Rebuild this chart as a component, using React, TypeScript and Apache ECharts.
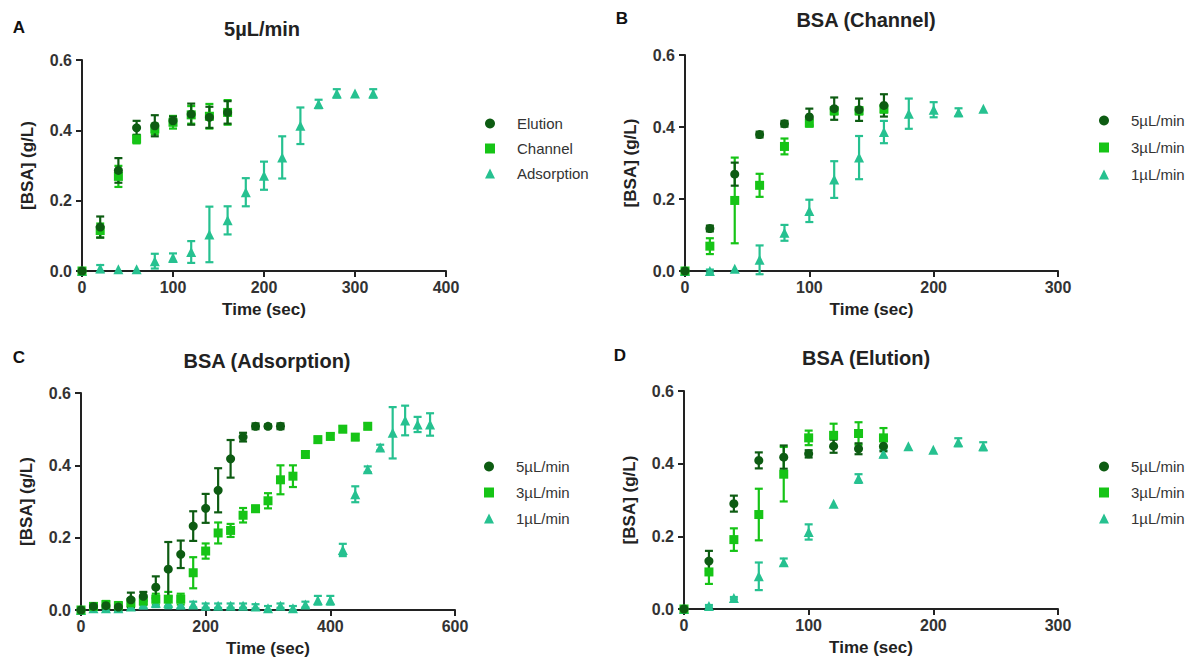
import React, { useEffect, useRef } from "react";
import * as echarts from "echarts";

// ---------- Data ----------
// Panel A (5 µL/min)
const timeA_short = [0, 20, 40, 60, 80, 100, 120, 140, 160];
const elutionA = [0, 0.125, 0.286, 0.407, 0.413, 0.427, 0.446, 0.437, 0.451];
const elutionA_err = [0, 0.03, 0.035, 0.02, 0.03, 0.012, 0.03, 0.03, 0.032];
const channelA = [0, 0.115, 0.269, 0.375, 0.404, 0.423, 0.444, 0.44, 0.451];
const channelA_err = [0, 0.02, 0.03, 0.012, 0.015, 0.018, 0.025, 0.035, 0.035];
const timeA_long = [0, 20, 40, 60, 80, 100, 120, 140, 160, 180, 200, 220, 240, 260, 280, 300, 320];
const adsorptionA = [0, 0.007, 0.005, 0.005, 0.028, 0.038, 0.054, 0.104, 0.144, 0.224, 0.271, 0.323, 0.413, 0.475, 0.505, 0.505, 0.505];
const adsorptionA_err = [0, 0.01, 0, 0, 0.021, 0.012, 0.031, 0.079, 0.04, 0.04, 0.04, 0.06, 0.052, 0.012, 0.012, 0, 0.012];

// Panel B (Channel)
const timeB_short = [0, 20, 40, 60, 80, 100, 120, 140, 160];
const chan5 = [0, 0.118, 0.269, 0.379, 0.409, 0.428, 0.451, 0.448, 0.46];
const chan5_err = [0, 0.008, 0.032, 0.008, 0.008, 0.023, 0.031, 0.031, 0.031];
const chan3 = [0, 0.069, 0.196, 0.238, 0.346, 0.411, 0.445, 0.445, 0.45];
const chan3_err = [0, 0.022, 0.119, 0.032, 0.022, 0.01, 0.01, 0.01, 0.01];
const timeB_long = [0, 20, 40, 60, 80, 100, 120, 140, 160, 180, 200, 220, 240];
const chan1 = [0, 0, 0.006, 0.031, 0.106, 0.167, 0.254, 0.315, 0.386, 0.437, 0.448, 0.441, 0.451];
const chan1_err = [0, 0.004, 0, 0.04, 0.022, 0.031, 0.051, 0.06, 0.031, 0.042, 0.021, 0.011, 0];

// Panel C (Adsorption)
const timeC5 = [0, 20, 40, 60, 80, 100, 120, 140, 160, 180, 200, 220, 240, 260, 280, 300, 320];
const ads5 = [0, 0.01, 0.012, 0.008, 0.028, 0.038, 0.063, 0.113, 0.154, 0.232, 0.281, 0.331, 0.418, 0.478, 0.508, 0.508, 0.508];
const ads5_err = [0, 0.008, 0.008, 0.01, 0.02, 0.012, 0.03, 0.075, 0.038, 0.041, 0.04, 0.061, 0.052, 0.012, 0.008, 0.005, 0.008];
const timeC3 = [0, 20, 40, 60, 80, 100, 120, 140, 160, 180, 200, 220, 240, 260, 280, 300, 320, 340, 360, 380, 400, 420, 440, 460];
const ads3 = [0, 0.01, 0.015, 0.012, 0.02, 0.025, 0.03, 0.03, 0.03, 0.103, 0.163, 0.213, 0.22, 0.262, 0.28, 0.302, 0.36, 0.37, 0.43, 0.471, 0.48, 0.5, 0.478, 0.508];
const ads3_err = [0, 0.008, 0.01, 0.01, 0.012, 0.012, 0.015, 0.02, 0.015, 0.043, 0.021, 0.029, 0.018, 0.02, 0.008, 0.021, 0.04, 0.03, 0.008, 0.008, 0.008, 0.008, 0.008, 0.008];
const timeC1 = [0, 20, 40, 60, 80, 100, 120, 140, 160, 180, 200, 220, 240, 260, 280, 300, 320, 340, 360, 380, 400, 420, 440, 460, 480, 500, 520, 540, 560];
const ads1 = [0, 0.005, 0.005, 0.005, 0.01, 0.015, 0.02, 0.02, 0.015, 0.015, 0.012, 0.012, 0.012, 0.012, 0.01, 0.005, 0.012, 0.005, 0.015, 0.027, 0.027, 0.166, 0.32, 0.389, 0.449, 0.49, 0.524, 0.513, 0.513];
const ads1_err = [0, 0.004, 0.004, 0.005, 0.008, 0.01, 0.012, 0.015, 0.01, 0.008, 0.006, 0.006, 0.006, 0.006, 0.006, 0.006, 0.006, 0.006, 0.008, 0.012, 0.012, 0.017, 0.022, 0.008, 0.008, 0.071, 0.041, 0.021, 0.031];

// Panel D (Elution)
const timeD_short = [0, 20, 40, 60, 80, 100, 120, 140, 160];
const elu5 = [0, 0.132, 0.29, 0.409, 0.418, 0.427, 0.448, 0.441, 0.448];
const elu5_err = [0, 0.028, 0.022, 0.022, 0.032, 0.01, 0.018, 0.015, 0.014];
const elu3 = [0, 0.102, 0.191, 0.26, 0.371, 0.471, 0.478, 0.483, 0.471];
const elu3_err = [0, 0.033, 0.031, 0.071, 0.075, 0.02, 0.032, 0.031, 0.027];
const timeD_long = [0, 20, 40, 60, 80, 100, 120, 140, 160, 180, 200, 220, 240];
const elu1 = [0, 0.008, 0.03, 0.09, 0.129, 0.212, 0.29, 0.359, 0.427, 0.448, 0.438, 0.459, 0.448];
const elu1_err = [0, 0.003, 0.003, 0.038, 0.01, 0.021, 0, 0.012, 0.01, 0, 0, 0.011, 0.011];

const yTicksMax = 0.6;
const panelTitles = ["5\u00b5L/min", "BSA (Channel)", "BSA (Adsorption)", "BSA (Elution)"];
const panelLetters = ["A", "B", "C", "D"];
const xMaxes = [400, 300, 600, 300];
const xIntervals = [100, 100, 200, 100];
const legendA = ["Elution", "Channel", "Adsorption"];
const legendRate = ["5\u00b5L/min", "3\u00b5L/min", "1\u00b5L/min"];

// ---------- Styles ----------
const DARK = "#0d5c12";
const BRIGHT = "#16c416";
const TEAL = "#26c190";
const FONT = "'Liberation Sans', Arial, Helvetica, sans-serif";
const AXIS_COLOR = "#222";

const grids = [
  { left: 82, top: 60, width: 364, height: 211 },
  { left: 685, top: 55, width: 373, height: 216 },
  { left: 81, top: 393, width: 374, height: 217 },
  { left: 684, top: 391, width: 374, height: 218 },
];

export default function App() {
  const ref = useRef<HTMLDivElement>(null);

  useEffect(() => {
    if (!ref.current) return;
    const chart = echarts.init(ref.current, undefined, { renderer: "svg" });

    const series: any[] = [];
    const add = (
      g: number,
      name: string,
      times: number[],
      means: number[],
      errs: number[],
      color: string,
      symbol: string
    ) => {
      series.push({
        type: "custom",
        name: name + " SEM",
        xAxisIndex: g,
        yAxisIndex: g,
        silent: true,
        z: 1,
        data: times
          .map((t, i) => [t, means[i] - errs[i], means[i] + errs[i], errs[i]])
          .filter((d) => d[3] > 0),
        renderItem: (params: any, api: any) => {
          const x = api.value(0);
          const a = api.coord([x, api.value(1)]);
          const b = api.coord([x, api.value(2)]);
          const w = 4;
          const style = { stroke: color, lineWidth: 2.2 };
          return {
            type: "group",
            children: [
              { type: "line", shape: { x1: a[0], y1: a[1], x2: b[0], y2: b[1] }, style },
              { type: "line", shape: { x1: a[0] - w, y1: a[1], x2: a[0] + w, y2: a[1] }, style },
              { type: "line", shape: { x1: b[0] - w, y1: b[1], x2: b[0] + w, y2: b[1] }, style },
            ],
          };
        },
      });
      series.push({
        type: "scatter",
        name,
        xAxisIndex: g,
        yAxisIndex: g,
        z: 2,
        symbol,
        symbolSize: symbol === "triangle" ? 10 : 9,
        itemStyle: { color, opacity: 1 },
        data: times.map((t, i) => [t, means[i]]),
      });
    };

    // Panel A
    add(0, legendA[2], timeA_long, adsorptionA, adsorptionA_err, TEAL, "triangle");
    add(0, legendA[1], timeA_short, channelA, channelA_err, BRIGHT, "rect");
    add(0, legendA[0], timeA_short, elutionA, elutionA_err, DARK, "circle");
    // Panel B
    add(1, legendRate[2], timeB_long, chan1, chan1_err, TEAL, "triangle");
    add(1, legendRate[1], timeB_short, chan3, chan3_err, BRIGHT, "rect");
    add(1, legendRate[0], timeB_short, chan5, chan5_err, DARK, "circle");
    // Panel C
    add(2, legendRate[2], timeC1, ads1, ads1_err, TEAL, "triangle");
    add(2, legendRate[1], timeC3, ads3, ads3_err, BRIGHT, "rect");
    add(2, legendRate[0], timeC5, ads5, ads5_err, DARK, "circle");
    // Panel D
    add(3, legendRate[2], timeD_long, elu1, elu1_err, TEAL, "triangle");
    add(3, legendRate[1], timeD_short, elu3, elu3_err, BRIGHT, "rect");
    add(3, legendRate[0], timeD_short, elu5, elu5_err, DARK, "circle");

    const axisCommon = {
      axisLine: { show: true, onZero: false, lineStyle: { color: AXIS_COLOR, width: 2 } },
      axisTick: { show: true, inside: false, length: 6, lineStyle: { color: AXIS_COLOR, width: 2 } },
      splitLine: { show: false },
      nameLocation: "middle" as const,
      nameTextStyle: { fontFamily: FONT, fontWeight: "bold", fontSize: 17, color: "#222" },
    };

    const xAxis = grids.map((_, i) => ({
      ...axisCommon,
      type: "value",
      gridIndex: i,
      min: 0,
      max: xMaxes[i],
      interval: xIntervals[i],
      name: "Time (sec)",
      nameGap: 30,
      axisLabel: { fontFamily: FONT, fontWeight: "bold", fontSize: 16, color: "#333", margin: 8 },
    }));
    const yAxis = grids.map((_, i) => ({
      ...axisCommon,
      type: "value",
      gridIndex: i,
      min: 0,
      max: yTicksMax,
      interval: 0.2,
      name: "[BSA] (g/L)",
      nameGap: 46,
      axisLabel: {
        fontFamily: FONT,
        fontWeight: "bold",
        fontSize: 16,
        color: "#333",
        margin: 10,
        formatter: (v: number) => v.toFixed(1),
      },
    }));

    const mkLegend = (names: string[], left: number, top: number, gap: number) => ({
      orient: "vertical",
      left,
      top,
      itemWidth: 10,
      itemHeight: 10,
      itemGap: gap,
      selectedMode: false,
      textStyle: { fontFamily: FONT, fontSize: 15, color: "#333", padding: [0, 0, 0, 17] },
      data: [
        { name: names[0], icon: "circle" },
        { name: names[1], icon: "rect" },
        { name: names[2], icon: "triangle" },
      ],
    });

    const titlePos = [
      [262, 29],
      [866, 20],
      [267, 361],
      [866, 358],
    ];
    const letterPos = [
      [19, 27],
      [622, 18],
      [19, 357],
      [620, 355],
    ];
    const graphic: any[] = [];
    titlePos.forEach((p, i) => {
      graphic.push({
        type: "text",
        x: p[0],
        y: p[1],
        style: {
          text: panelTitles[i],
          fontFamily: FONT,
          fontWeight: "bold",
          fontSize: 20,
          fill: "#222",
          textAlign: "center",
          textVerticalAlign: "middle",
        },
      });
    });
    letterPos.forEach((p, i) => {
      graphic.push({
        type: "text",
        x: p[0],
        y: p[1],
        style: {
          text: panelLetters[i],
          fontFamily: FONT,
          fontWeight: "bold",
          fontSize: 17,
          fill: "#111",
          textAlign: "center",
          textVerticalAlign: "middle",
        },
      });
    });

    chart.setOption({
      animation: false,
      backgroundColor: "#ffffff",
      grid: grids.map((g) => ({ ...g, containLabel: false })),
      xAxis,
      yAxis,
      legend: [
        mkLegend(legendA, 480, 111, 10),
        mkLegend(legendRate, 1094, 108, 12),
        mkLegend(legendRate, 479, 454, 11),
        mkLegend(legendRate, 1094, 454, 11),
      ],
      graphic,
      series,
    });

    return () => chart.dispose();
  }, []);

  return (
    <div
      ref={ref}
      style={{ position: "absolute", left: 0, top: 0, width: 1192, height: 660, background: "#fff" }}
    />
  );
}
